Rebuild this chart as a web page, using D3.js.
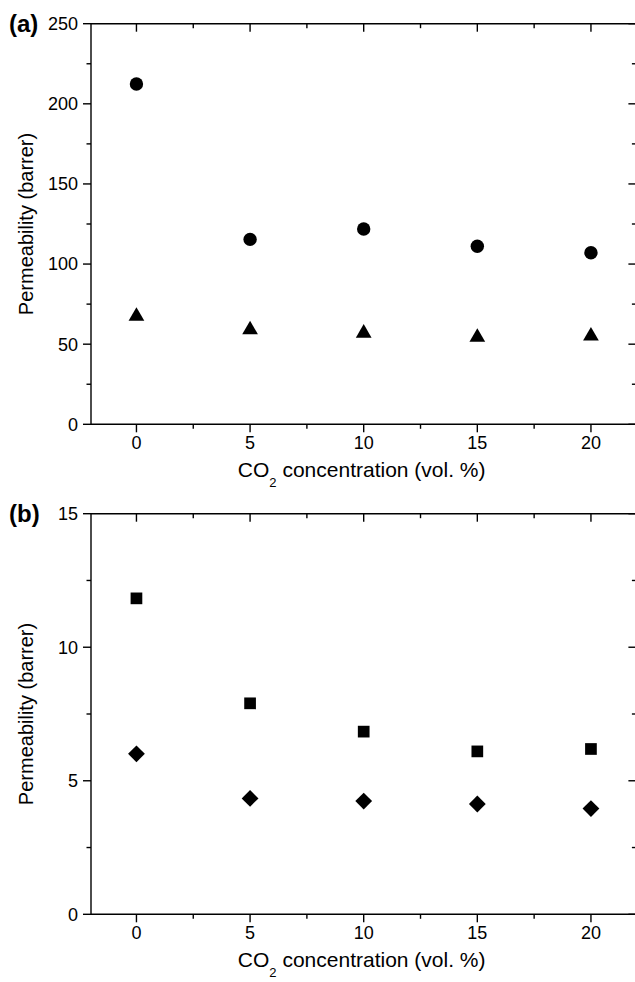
<!DOCTYPE html>
<html>
<head>
<meta charset="utf-8">
<script src="https://cdn.jsdelivr.net/npm/d3@7"></script>
<style>
  html, body { margin: 0; padding: 0; background: #fff; }
  svg { display: block; }
  text { font-family: "Liberation Sans", Arial, Helvetica, sans-serif; fill: #000; }
</style>
</head>
<body>
<svg id="chart" width="635" height="982"></svg>
<script>
// ---------- data ----------
const concentrations = [0, 5, 10, 15, 20];
// panel (a)
const aCircle = [212.4, 115.4, 121.9, 111.1, 107.1];
const aTriangle = [68.8, 60.4, 58.3, 55.7, 56.5];
// panel (b)
const bSquare = [11.83, 7.9, 6.84, 6.1, 6.19];
const bDiamond = [6.01, 4.34, 4.24, 4.13, 3.96];

const xTicks = [0, 5, 10, 15, 20];
const xMinorTicks = [2.5, 7.5, 12.5, 17.5];
const aYTicks = [0, 50, 100, 150, 200, 250];
const aYMinor = [25, 75, 125, 175, 225];
const bYTicks = [0, 5, 10, 15];
const bYMinor = [2.5, 7.5, 12.5];

const xTitleMain = "CO";
const xTitleSub = "2";
const xTitleRest = " concentration (vol. %)";
const yTitle = "Permeability (barrer)";

// ---------- drawing ----------
const svg = d3.select("#chart");
const left = 91, right = 636.4;

const panels = [
  { label: "(a)", top: 23.7, bottom: 424.3, domain: [0, 250], ticks: aYTicks, minor: aYMinor,
    series: [{ values: aCircle, shape: "circle" }, { values: aTriangle, shape: "triangle" }] },
  { label: "(b)", top: 513.7, bottom: 914.3, domain: [0, 15], ticks: bYTicks, minor: bYMinor,
    series: [{ values: bSquare, shape: "square" }, { values: bDiamond, shape: "diamond" }] }
];

const shapes = {
  circle: () => { const r = 6.7; return `M${-r},0A${r},${r} 0 1,0 ${r},0A${r},${r} 0 1,0 ${-r},0Z`; },
  triangle: () => { const w = 15.7, h = 13.6; return `M0,${-h/2}L${w/2},${h/2}L${-w/2},${h/2}Z`; },
  square: () => { const s = 11.7; return `M${-s/2},${-s/2}h${s}v${s}h${-s}Z`; },
  diamond: () => { const d = 8.4; return `M0,${-d}L${d},0L0,${d}L${-d},0Z`; }
};

const x = d3.scaleLinear().domain([-2, 22]).range([left, right]);

panels.forEach(p => {
  const y = d3.scaleLinear().domain(p.domain).range([p.bottom, p.top]);
  const g = svg.append("g");
  const major = 8, minorLen = 4.5, sw = 1.4;

  // frame lines
  g.append("line").attr("x1", left).attr("x2", right).attr("y1", p.bottom).attr("y2", p.bottom)
    .attr("stroke", "#000").attr("stroke-width", sw);
  g.append("line").attr("x1", left).attr("x2", right).attr("y1", p.top).attr("y2", p.top)
    .attr("stroke", "#000").attr("stroke-width", sw);
  g.append("line").attr("x1", left).attr("x2", left).attr("y1", p.top).attr("y2", p.bottom)
    .attr("stroke", "#000").attr("stroke-width", sw);
  g.append("line").attr("x1", right).attr("x2", right).attr("y1", p.top).attr("y2", p.bottom)
    .attr("stroke", "#000").attr("stroke-width", sw);

  // bottom ticks (outward), top ticks (inward)
  xTicks.forEach(t => {
    g.append("line").attr("x1", x(t)).attr("x2", x(t)).attr("y1", p.bottom).attr("y2", p.bottom + major)
      .attr("stroke", "#000").attr("stroke-width", sw);
    g.append("line").attr("x1", x(t)).attr("x2", x(t)).attr("y1", p.top).attr("y2", p.top + major)
      .attr("stroke", "#000").attr("stroke-width", sw);
    g.append("text").attr("x", x(t)).attr("y", p.bottom + 25).attr("text-anchor", "middle")
      .attr("font-size", 18).text(t);
  });
  xMinorTicks.forEach(t => {
    g.append("line").attr("x1", x(t)).attr("x2", x(t)).attr("y1", p.bottom).attr("y2", p.bottom + minorLen)
      .attr("stroke", "#000").attr("stroke-width", sw);
    g.append("line").attr("x1", x(t)).attr("x2", x(t)).attr("y1", p.top).attr("y2", p.top + minorLen)
      .attr("stroke", "#000").attr("stroke-width", sw);
  });

  // left ticks (outward), right ticks (inward)
  p.ticks.forEach(t => {
    g.append("line").attr("x1", left - major).attr("x2", left).attr("y1", y(t)).attr("y2", y(t))
      .attr("stroke", "#000").attr("stroke-width", sw);
    g.append("line").attr("x1", right - major).attr("x2", right).attr("y1", y(t)).attr("y2", y(t))
      .attr("stroke", "#000").attr("stroke-width", sw);
    g.append("text").attr("x", left - 13).attr("y", y(t) + 6.4).attr("text-anchor", "end")
      .attr("font-size", 18).text(t);
  });
  p.minor.forEach(t => {
    g.append("line").attr("x1", left - minorLen).attr("x2", left).attr("y1", y(t)).attr("y2", y(t))
      .attr("stroke", "#000").attr("stroke-width", sw);
    g.append("line").attr("x1", right - minorLen).attr("x2", right).attr("y1", y(t)).attr("y2", y(t))
      .attr("stroke", "#000").attr("stroke-width", sw);
  });

  // x title
  const xt = g.append("text").attr("x", (left + right) / 2 - 2).attr("y", p.bottom + 53)
    .attr("text-anchor", "middle").attr("font-size", 21);
  xt.append("tspan").text(xTitleMain);
  xt.append("tspan").attr("font-size", 13).attr("dy", 10).text(xTitleSub);
  xt.append("tspan").attr("dy", -10).text(xTitleRest);

  // y title
  g.append("text").attr("transform", `translate(33,${(p.top + p.bottom) / 2}) rotate(-90)`)
    .attr("text-anchor", "middle").attr("font-size", 20).text(yTitle);

  // panel label
  g.append("text").attr("x", 9).attr("y", p.top + 8).attr("font-size", 24)
    .attr("font-weight", "bold").text(p.label);

  // markers
  p.series.forEach(s => {
    g.append("g").selectAll("path").data(s.values).join("path")
      .attr("transform", (d, i) => `translate(${x(concentrations[i])},${y(d)})`)
      .attr("d", shapes[s.shape]())
      .attr("fill", "#000");
  });
});
</script>
</body>
</html>
